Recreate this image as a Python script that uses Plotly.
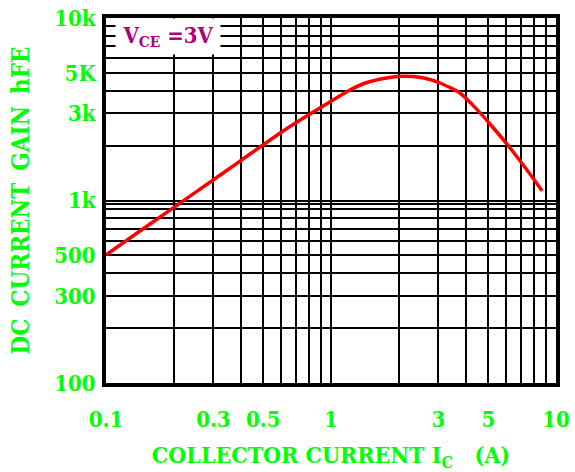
import plotly.graph_objects as go

# Curve data (collector current in A, DC current gain hFE)
ic = [0.1, 0.1416, 0.2005, 0.328, 0.4365, 0.593, 0.751, 1.021, 1.214, 1.445,
      1.738, 2.026, 2.314, 2.617, 3.05, 3.744, 4.277, 5.09, 6.25, 7.66, 8.67]
hfe = [503, 681, 917, 1401, 1798, 2338, 2820, 3554, 4032, 4433,
       4679, 4792, 4781, 4673, 4404, 3882, 3320, 2626, 1940, 1397, 1130]

x_tick_vals = [0.1, 0.3, 0.5, 1, 3, 5, 10]
x_tick_text = ["0.1", "0.3", "0.5", "1", "3", "5", "10"]
x_minor_vals = [0.2, 0.4, 0.6, 0.7, 0.8, 0.9, 2, 4, 6, 7, 8, 9]

y_tick_vals = [100, 300, 500, 1000, 3000, 5000, 10000]
y_tick_text = ["100", "300", "500", "1k", "3k", "5K", "10k"]
y_minor_vals = [200, 400, 600, 700, 800, 900, 960, 2000, 4000, 6000, 7000, 8000, 9000]

GREEN = "#00ff00"
FONT = "DejaVu Serif Condensed, DejaVu Serif, serif"
NB = "\u00a0"
YSP = "\u00a0\u2009"

fig = go.Figure()
fig.add_trace(go.Scatter(x=ic, y=hfe, mode="lines",
                         line=dict(color="#ff0000", width=3.5, shape="spline", smoothing=0.6),
                         showlegend=False, hoverinfo="skip"))

axis_common = dict(
    type="log",
    showgrid=True, gridcolor="black", gridwidth=2,
    showline=True, linecolor="black", linewidth=4, mirror=True,
    ticks="", zeroline=False, automargin=False,
    tickfont=dict(family=FONT, size=22, color=GREEN, weight="bold"),
)

fig.update_xaxes(
    **axis_common,
    range=[-1, 1],
    tickmode="array", tickvals=x_tick_vals, ticktext=x_tick_text,
    minor=dict(tickmode="array", tickvals=x_minor_vals, showgrid=True,
               gridcolor="black", gridwidth=2, ticks=""),
    ticklabelstandoff=14,
    title=dict(text="COLLECTOR" + NB + "CURRENT" + NB + "I<sub>C</sub>" + NB * 3 + "(A)",
               font=dict(family=FONT, size=23, color=GREEN, weight="bold"),
               standoff=29),
)
fig.update_yaxes(
    **axis_common,
    range=[2, 4],
    tickmode="array", tickvals=y_tick_vals, ticktext=y_tick_text,
    minor=dict(tickmode="array", tickvals=y_minor_vals, showgrid=True,
               gridcolor="black", gridwidth=2, ticks=""),
    ticklabelstandoff=2,
    title=dict(text="DC" + YSP + "CURRENT" + YSP + "GAIN" + YSP + "hFE",
               font=dict(family=FONT, size=24, color=GREEN, weight="bold"),
               standoff=19),
)

fig.add_annotation(
    xref="x domain", yref="y domain", x=0.02, y=1.0, xanchor="left", yanchor="top",
    text="V<sub>CE</sub> =3V", showarrow=False, align="center",
    width=104, height=35, bgcolor="white", borderpad=0,
    font=dict(family=FONT, size=22, color="#b0007a", weight="bold"),
)

fig.update_layout(
    width=575, height=472,
    margin=dict(l=106, r=19, t=18, b=89),
    paper_bgcolor="white", plot_bgcolor="white",
)

fig.write_html("out.html")
